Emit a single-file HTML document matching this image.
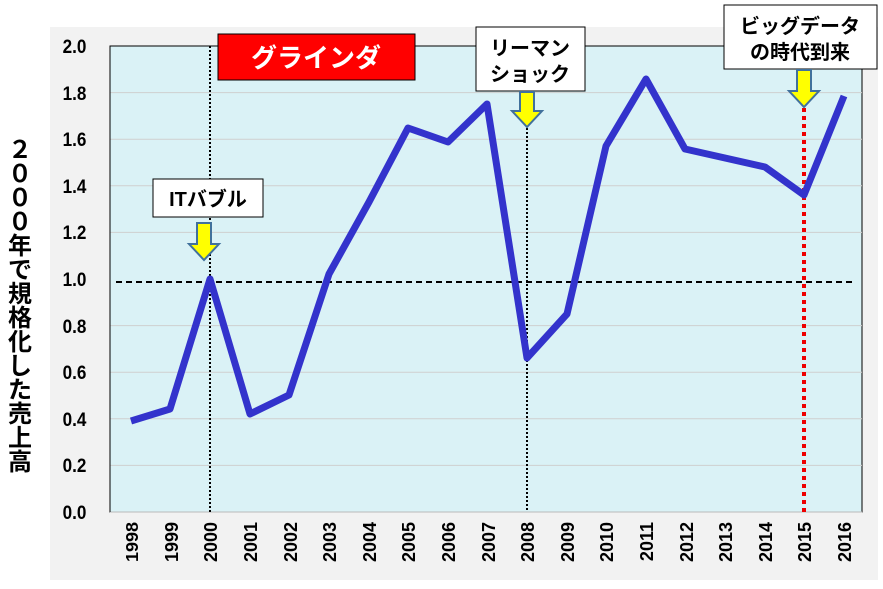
<!DOCTYPE html><html><head><meta charset="utf-8"><style>
body{margin:0;width:883px;height:584px;background:#fff;overflow:hidden}
</style></head><body>
<svg width="883" height="584" xmlns="http://www.w3.org/2000/svg" font-family="Liberation Sans, Noto Sans CJK JP, sans-serif">
<rect x="50" y="27" width="828" height="553" fill="#f2f2f2"/>
<rect x="110" y="46" width="752" height="466" fill="#daf2f6" stroke="#000" stroke-width="1"/>
<g stroke="#cfcfcf" stroke-width="1">
<line x1="110" x2="862" y1="92.6" y2="92.6"/><line x1="110" x2="862" y1="139.2" y2="139.2"/>
<line x1="110" x2="862" y1="185.8" y2="185.8"/><line x1="110" x2="862" y1="232.4" y2="232.4"/>
<line x1="110" x2="862" y1="325.6" y2="325.6"/><line x1="110" x2="862" y1="372.2" y2="372.2"/>
<line x1="110" x2="862" y1="418.8" y2="418.8"/><line x1="110" x2="862" y1="465.4" y2="465.4"/>
</g>
<line x1="110" x2="862" y1="512" y2="512" stroke="#bbb"/>
<line x1="110" x2="110" y1="46" y2="512" stroke="#000"/>
<line x1="116" x2="856" y1="282" y2="282" stroke="#000" stroke-width="2" stroke-dasharray="6,4"/>
<line x1="210" x2="210" y1="46" y2="512" stroke="#000" stroke-width="2" stroke-dasharray="2,2"/>
<line x1="527" x2="527" y1="128" y2="512" stroke="#000" stroke-width="2" stroke-dasharray="2,2"/>
<line x1="804" x2="804" y1="108" y2="512" stroke="#e00" stroke-width="4" stroke-dasharray="4,4"/>
<polyline fill="none" stroke="#3333cc" stroke-width="7" stroke-linejoin="round" points="131,421 170,409 210,279 250,414 289,395 329,274 369,202 408,128 448,142 487,104 527,358 567,314 606,146 646,79 685,149 725,158 765,167 804,195 844,96"/>
<g font-weight="bold" font-size="19" text-anchor="end" fill="#000" transform="scale(0.9,1)">
<text x="96" y="53">2.0</text><text x="96" y="100">1.8</text><text x="96" y="146">1.6</text>
<text x="96" y="193">1.4</text><text x="96" y="239">1.2</text><text x="96" y="286">1.0</text>
<text x="96" y="333">0.8</text><text x="96" y="379">0.6</text><text x="96" y="426">0.4</text>
<text x="96" y="472">0.2</text><text x="96" y="519">0.0</text>
</g>
<g font-weight="bold" font-size="18" fill="#000" text-anchor="end">
<text transform="translate(138,522) rotate(-90) scale(1,0.95)">1998</text><text transform="translate(178,522) rotate(-90)">1999</text>
<text transform="translate(217,522) rotate(-90)">2000</text><text transform="translate(257,522) rotate(-90)">2001</text>
<text transform="translate(297,522) rotate(-90)">2002</text><text transform="translate(336,522) rotate(-90)">2003</text>
<text transform="translate(376,522) rotate(-90)">2004</text><text transform="translate(415,522) rotate(-90)">2005</text>
<text transform="translate(455,522) rotate(-90)">2006</text><text transform="translate(495,522) rotate(-90)">2007</text>
<text transform="translate(534,522) rotate(-90)">2008</text><text transform="translate(574,522) rotate(-90)">2009</text>
<text transform="translate(613,522) rotate(-90)">2010</text><text transform="translate(653,522) rotate(-90)">2011</text>
<text transform="translate(693,522) rotate(-90)">2012</text><text transform="translate(732,522) rotate(-90)">2013</text>
<text transform="translate(772,522) rotate(-90)">2014</text><text transform="translate(811,522) rotate(-90)">2015</text>
<text transform="translate(851,522) rotate(-90)">2016</text>
</g>
<g font-weight="bold" font-size="24" fill="#000" text-anchor="middle">
<text x="20" y="158">２</text><text x="20" y="182">０</text><text x="20" y="206">０</text><text x="20" y="230">０</text>
<text x="20" y="254">年</text><text x="20" y="278">で</text><text x="20" y="302">規</text><text x="20" y="326">格</text>
<text x="20" y="350">化</text><text x="20" y="374">し</text><text x="20" y="398">た</text><text x="20" y="422">売</text>
<text x="20" y="446">上</text><text x="20" y="470">高</text>
</g>
<rect x="218" y="34" width="197" height="46" fill="#ff0000" stroke="#000"/>
<text x="316" y="67" font-size="26" font-weight="bold" fill="#fff" text-anchor="middle">グラインダ</text>
<rect x="153" y="179" width="110" height="38" fill="#fff" stroke="#000"/>
<text x="208" y="206" font-size="20" font-weight="bold" text-anchor="middle">ITバブル</text>
<rect x="476" y="27" width="109" height="64" fill="#fff" stroke="#000"/>
<text x="530" y="55" font-size="20" font-weight="bold" text-anchor="middle">リーマン</text>
<text x="530" y="81" font-size="20" font-weight="bold" text-anchor="middle">ショック</text>
<rect x="724" y="5" width="153" height="64" fill="#fff" stroke="#000"/>
<text x="800" y="33" font-size="20" font-weight="bold" text-anchor="middle">ビッグデータ</text>
<text x="800" y="59" font-size="20" font-weight="bold" text-anchor="middle">の時代到来</text>
<g fill="#ffff00" stroke="#41719c" stroke-width="2">
<polygon points="197,223 211,223 211,244 219,244 204,260 189,244 197,244"/>
<polygon points="520,92 534,92 534,111 542,111 527,127 512,111 520,111"/>
<polygon points="797,70 811,70 811,91 819,91 804,107 789,91 797,91"/>
</g>
</svg>
</body></html>
